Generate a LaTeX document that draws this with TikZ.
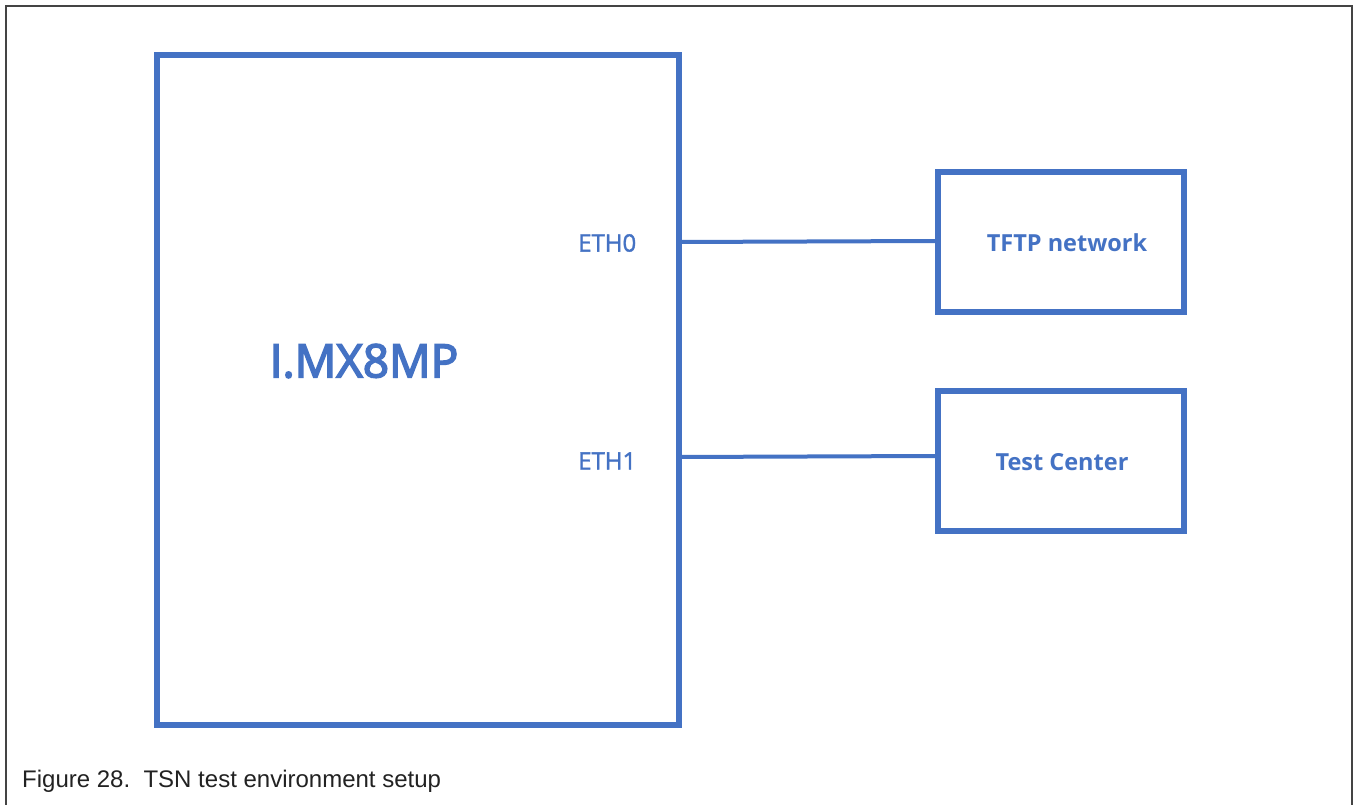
\documentclass[tikz,border=0pt]{standalone}
\usepackage{fontspec}
\setmainfont{Open Sans}
\newfontfamily\capfont{Liberation Sans}
\newfontfamily\mxfont[FakeBold=3.5]{Open Sans}
\newfontfamily\ethfont[FakeBold=1.5]{Open Sans}
\definecolor{boxblue}{HTML}{4472C4}
\definecolor{framegray}{HTML}{444444}
\definecolor{capgray}{HTML}{222222}
\tikzset{
  blk/.style={draw=boxblue, line width=6pt, fill=none},
  conn/.style={draw=boxblue, line width=4pt},
  lbl/.style={text=boxblue, font=\ethfont\fontsize{24}{28}\selectfont, inner sep=0pt},
  blbl/.style={text=boxblue, font=\fontsize{23.5}{28}\selectfont\bfseries, inner sep=0pt},
}
\begin{document}
\begin{tikzpicture}[x=1pt,y=-1pt]
\useasboundingbox (0,0) rectangle (1353,805);
\fill[white] (0,0) rectangle (1353,805);
% frame
\draw[framegray, line width=2pt] (6,805) -- (6,6) -- (1352,6) -- (1352,805);
% boxes
\draw[blk] (157,55) rectangle (679,725);
\coordinate (mxr0) at (679,242);
\coordinate (mxr1) at (679,457);
\node[rectangle, blk, minimum width=246pt, minimum height=140pt, inner sep=0pt] (tftp) at (1061,242) {};
\node[rectangle, blk, minimum width=246pt, minimum height=140pt, inner sep=0pt] (tc) at (1061,461) {};
\node[blbl] (tftpl) at (1067,243) {TFTP network};
\node[blbl] (tcl) at (1062,462) {Test Center};
\node[text=boxblue, font=\mxfont\fontsize{46}{50}\selectfont, inner sep=0pt] (mx) at (364,361) {I.MX8MP};
\node[lbl, anchor=west] (eth0) at (578,243) {ETH0};
\node[lbl, anchor=west] (eth1) at (578,461) {ETH1};
\draw[conn] (mxr0) -- (tftp.west |- 0,241);
\draw[conn] (mxr1) -- (tc.west |- 0,456);
% caption
\node[capgray, font=\capfont\fontsize{24}{28}\selectfont, anchor=base west, inner sep=0pt] (cap) at (22,787) {Figure 28.\ \ TSN test environment setup};
\end{tikzpicture}
\end{document}
